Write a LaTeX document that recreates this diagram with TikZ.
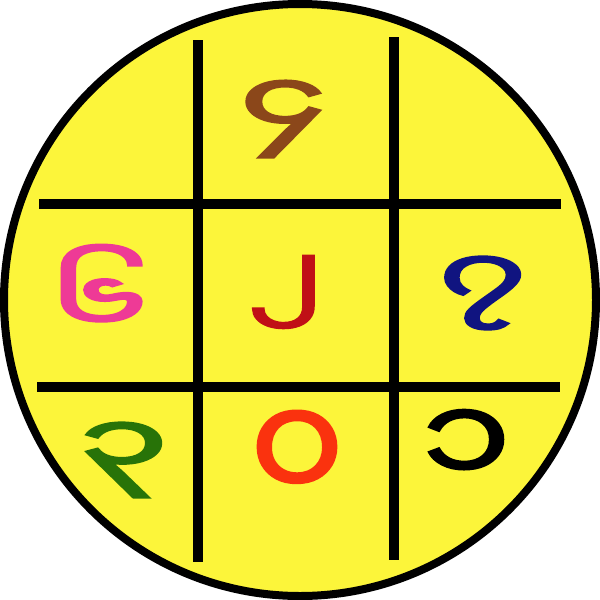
\documentclass[tikz,border=0pt]{standalone}
\usepackage{fontspec}
\newfontfamily\myfont[Script=Myanmar,FakeBold=3]{Noto Sans Myanmar UI}
\newfontfamily\myfontlight[Script=Myanmar,FakeBold=1.5]{Noto Sans Myanmar UI}
\definecolor{bgyellow}{RGB}{252,245,58}
\definecolor{cbrown}{RGB}{139,71,26}
\definecolor{cpink}{RGB}{238,58,150}
\definecolor{cred}{RGB}{192,16,22}
\definecolor{cblue}{RGB}{16,20,128}
\definecolor{cgreen}{RGB}{40,115,8}
\definecolor{corange}{RGB}{250,50,14}
\tikzset{
  digit/.style={inner sep=0pt, font=\myfont\fontsize{100}{100}\selectfont},
  digitlight/.style={inner sep=0pt, font=\myfontlight\fontsize{100}{100}\selectfont},
  gridline/.style={line width=10pt},
}
\begin{document}
\begin{tikzpicture}[x=1pt,y=-1pt]
\useasboundingbox (0,0) rectangle (600,600);
\node[circle, draw=black, fill=bgyellow, line width=8pt, minimum size=592pt, inner sep=0pt] (c) at (300,300) {};
\coordinate (v1a) at (198,40); \coordinate (v1b) at (198,562);
\coordinate (v2a) at (393.5,37); \coordinate (v2b) at (393.5,560);
\coordinate (h1a) at (39,204); \coordinate (h1b) at (561,204);
\coordinate (h2a) at (37,387); \coordinate (h2b) at (560,387);
\draw[gridline] (v1a) -- (v1b);
\draw[gridline] (v2a) -- (v2b);
\draw[gridline] (h1a) -- (h1b);
\draw[gridline] (h2a) -- (h2b);
\node[digit, text=cbrown] (d4) at (283,119) {\scalebox{1.4}[0.84]{၄}};
\node[digit, text=cpink] (d6) at (99,289) {\scalebox{1.35}[0.84]{၆}};
\node[digit, text=cred] (d2) at (286,292) {\scalebox{1.1}[0.8]{၂}};
\node[digit, text=cblue] (d7) at (483,293) {\scalebox{1.35}[0.8]{၇}};
\node[digit, text=cgreen] (d3) at (124,460) {\scalebox{1.42}[0.82]{၃}};
\node[digitlight, text=corange] (d0) at (297,457) {\scalebox{1.45}[1.45]{၀}};
\node[digitlight, text=black] (d1) at (466,448) {\scalebox{1.45}[1.2]{၁}};
\end{tikzpicture}
\end{document}
